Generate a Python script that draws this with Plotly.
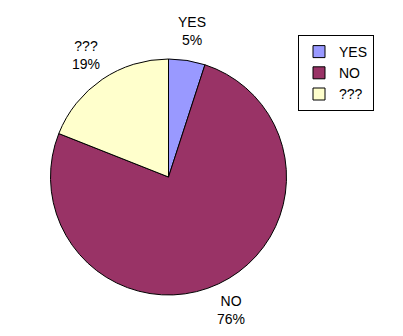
import math
import plotly.graph_objects as go

labels = ["YES", "NO", "???"]
values = [5, 76, 19]
colors = ["#9999FF", "#993366", "#FFFFCC"]

W, H = 403, 336
cx, cy, R = 168.5, 177.0, 118.0
label_r = 1.25

fig = go.Figure(go.Pie(
    labels=labels, values=values, sort=False, direction="clockwise", rotation=0,
    marker=dict(colors=colors, line=dict(color="black", width=1)),
    textinfo="none", hoverinfo="label+percent",
    domain=dict(x=[(cx - R) / W, (cx + R) / W], y=[(H - cy - R) / H, (H - cy + R) / H]),
))

total = sum(values)
cum = 0
annotations = []
for lab, v in zip(labels, values):
    mid = (cum + v / 2) / total * 2 * math.pi
    cum += v
    px = cx + label_r * R * math.sin(mid)
    py = cy - label_r * R * math.cos(mid)
    pct = round(v / total * 100)
    annotations.append(dict(
        x=px / W, y=1 - py / H, xref="paper", yref="paper",
        text=f"{lab}<br>{pct}%", showarrow=False, xanchor="center", yanchor="middle",
        font=dict(family="Liberation Sans, Arial", size=14, color="black"), align="center",
    ))

fig.update_layout(
    width=W, height=H, margin=dict(l=0, r=0, t=0, b=0),
    paper_bgcolor="white", plot_bgcolor="white",
    annotations=annotations,
    legend=dict(x=374 / W, y=1 - 35 / H, xanchor="right", yanchor="top",
                bordercolor="black", borderwidth=1, bgcolor="white",
                font=dict(family="Liberation Sans, Arial", size=14, color="black"),
                itemwidth=30, tracegroupgap=0),
)
fig.write_html("out.html")
